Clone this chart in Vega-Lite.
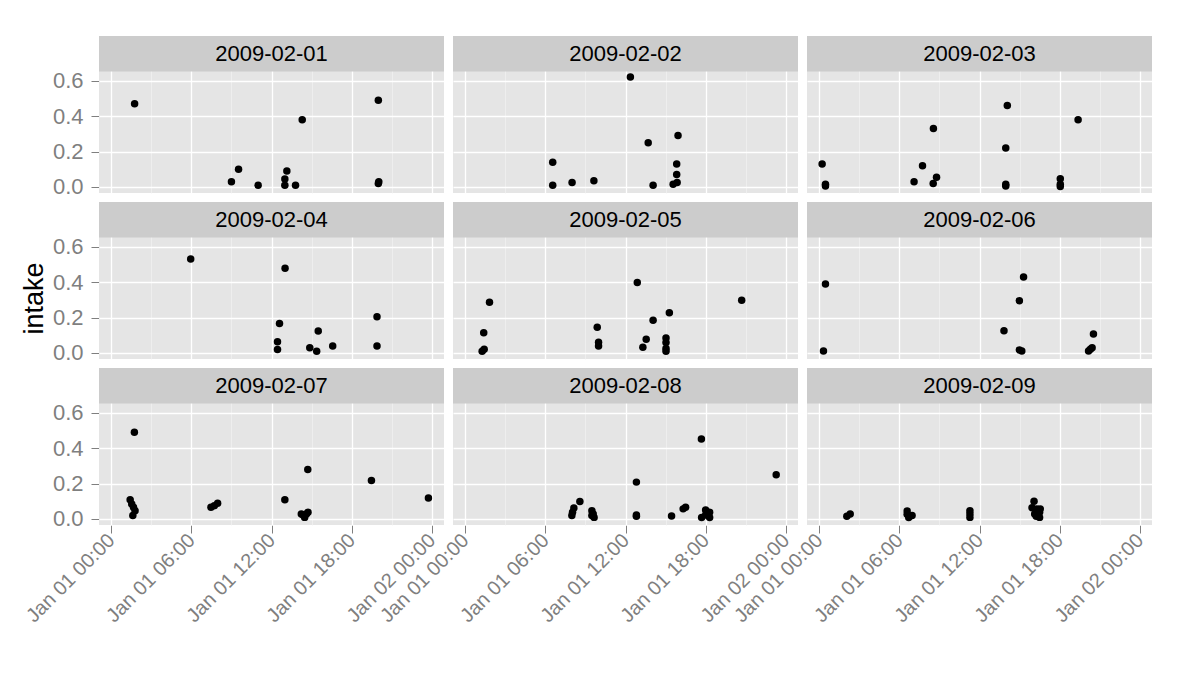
{
  "$schema": "https://vega.github.io/schema/vega-lite/v6.json",
  "autosize": {"type": "pad"},
  "padding": {"left": 21, "top": 35, "right": 20, "bottom": 5},
  "background": "white",
  "title": {"text": "intake", "orient": "left", "anchor": "middle", "fontSize": 27, "fontWeight": "normal", "color": "black", "font": "Liberation Sans", "offset": -27, "dx": 32},
  "config": {
    "view": {"fill": "#E5E5E5", "stroke": null},
    "font": "Liberation Sans"
  },
  "data": {"values": [
    {"date": "2009-02-01", "time": "2009-01-01T01:45", "intake": 0.47},
    {"date": "2009-02-01", "time": "2009-01-01T20:00", "intake": 0.49},
    {"date": "2009-02-01", "time": "2009-01-01T14:18", "intake": 0.38},
    {"date": "2009-02-01", "time": "2009-01-01T09:32", "intake": 0.10},
    {"date": "2009-02-01", "time": "2009-01-01T09:00", "intake": 0.03},
    {"date": "2009-02-01", "time": "2009-01-01T11:00", "intake": 0.01},
    {"date": "2009-02-01", "time": "2009-01-01T13:09", "intake": 0.09},
    {"date": "2009-02-01", "time": "2009-01-01T13:00", "intake": 0.045},
    {"date": "2009-02-01", "time": "2009-01-01T13:00", "intake": 0.01},
    {"date": "2009-02-01", "time": "2009-01-01T13:48", "intake": 0.01},
    {"date": "2009-02-01", "time": "2009-01-01T20:00", "intake": 0.02},
    {"date": "2009-02-01", "time": "2009-01-01T20:02", "intake": 0.03},

    {"date": "2009-02-02", "time": "2009-01-01T12:22", "intake": 0.62},
    {"date": "2009-02-02", "time": "2009-01-01T13:42", "intake": 0.25},
    {"date": "2009-02-02", "time": "2009-01-01T15:56", "intake": 0.29},
    {"date": "2009-02-02", "time": "2009-01-01T06:33", "intake": 0.14},
    {"date": "2009-02-02", "time": "2009-01-01T06:33", "intake": 0.01},
    {"date": "2009-02-02", "time": "2009-01-01T08:00", "intake": 0.025},
    {"date": "2009-02-02", "time": "2009-01-01T09:38", "intake": 0.035},
    {"date": "2009-02-02", "time": "2009-01-01T14:04", "intake": 0.01},
    {"date": "2009-02-02", "time": "2009-01-01T15:50", "intake": 0.13},
    {"date": "2009-02-02", "time": "2009-01-01T15:50", "intake": 0.07},
    {"date": "2009-02-02", "time": "2009-01-01T15:34", "intake": 0.015},
    {"date": "2009-02-02", "time": "2009-01-01T15:52", "intake": 0.025},

    {"date": "2009-02-03", "time": "2009-01-01T00:13", "intake": 0.13},
    {"date": "2009-02-03", "time": "2009-01-01T00:28", "intake": 0.015},
    {"date": "2009-02-03", "time": "2009-01-01T00:28", "intake": 0.005},
    {"date": "2009-02-03", "time": "2009-01-01T08:33", "intake": 0.33},
    {"date": "2009-02-03", "time": "2009-01-01T07:44", "intake": 0.12},
    {"date": "2009-02-03", "time": "2009-01-01T07:06", "intake": 0.03},
    {"date": "2009-02-03", "time": "2009-01-01T08:32", "intake": 0.02},
    {"date": "2009-02-03", "time": "2009-01-01T08:47", "intake": 0.055},
    {"date": "2009-02-03", "time": "2009-01-01T14:05", "intake": 0.46},
    {"date": "2009-02-03", "time": "2009-01-01T13:58", "intake": 0.22},
    {"date": "2009-02-03", "time": "2009-01-01T13:58", "intake": 0.015},
    {"date": "2009-02-03", "time": "2009-01-01T13:58", "intake": 0.006},
    {"date": "2009-02-03", "time": "2009-01-01T19:23", "intake": 0.38},
    {"date": "2009-02-03", "time": "2009-01-01T18:03", "intake": 0.047},
    {"date": "2009-02-03", "time": "2009-01-01T18:03", "intake": 0.015},
    {"date": "2009-02-03", "time": "2009-01-01T18:03", "intake": 0.002},

    {"date": "2009-02-04", "time": "2009-01-01T05:57", "intake": 0.53},
    {"date": "2009-02-04", "time": "2009-01-01T13:01", "intake": 0.478},
    {"date": "2009-02-04", "time": "2009-01-01T12:36", "intake": 0.166},
    {"date": "2009-02-04", "time": "2009-01-01T12:27", "intake": 0.063},
    {"date": "2009-02-04", "time": "2009-01-01T12:27", "intake": 0.02},
    {"date": "2009-02-04", "time": "2009-01-01T15:30", "intake": 0.124},
    {"date": "2009-02-04", "time": "2009-01-01T14:52", "intake": 0.03},
    {"date": "2009-02-04", "time": "2009-01-01T15:23", "intake": 0.01},
    {"date": "2009-02-04", "time": "2009-01-01T16:35", "intake": 0.04},
    {"date": "2009-02-04", "time": "2009-01-01T19:54", "intake": 0.204},
    {"date": "2009-02-04", "time": "2009-01-01T19:54", "intake": 0.04},

    {"date": "2009-02-05", "time": "2009-01-01T01:49", "intake": 0.286},
    {"date": "2009-02-05", "time": "2009-01-01T01:23", "intake": 0.114},
    {"date": "2009-02-05", "time": "2009-01-01T01:16", "intake": 0.01},
    {"date": "2009-02-05", "time": "2009-01-01T01:25", "intake": 0.021},
    {"date": "2009-02-05", "time": "2009-01-01T09:53", "intake": 0.145},
    {"date": "2009-02-05", "time": "2009-01-01T09:59", "intake": 0.061},
    {"date": "2009-02-05", "time": "2009-01-01T09:59", "intake": 0.04},
    {"date": "2009-02-05", "time": "2009-01-01T12:53", "intake": 0.398},
    {"date": "2009-02-05", "time": "2009-01-01T14:04", "intake": 0.185},
    {"date": "2009-02-05", "time": "2009-01-01T15:17", "intake": 0.227},
    {"date": "2009-02-05", "time": "2009-01-01T13:33", "intake": 0.078},
    {"date": "2009-02-05", "time": "2009-01-01T13:18", "intake": 0.032},
    {"date": "2009-02-05", "time": "2009-01-01T15:02", "intake": 0.084},
    {"date": "2009-02-05", "time": "2009-01-01T15:02", "intake": 0.059},
    {"date": "2009-02-05", "time": "2009-01-01T15:02", "intake": 0.025},
    {"date": "2009-02-05", "time": "2009-01-01T15:02", "intake": 0.01},
    {"date": "2009-02-05", "time": "2009-01-01T20:42", "intake": 0.297},

    {"date": "2009-02-06", "time": "2009-01-01T00:28", "intake": 0.389},
    {"date": "2009-02-06", "time": "2009-01-01T00:19", "intake": 0.011},
    {"date": "2009-02-06", "time": "2009-01-01T15:18", "intake": 0.429},
    {"date": "2009-02-06", "time": "2009-01-01T14:59", "intake": 0.295},
    {"date": "2009-02-06", "time": "2009-01-01T13:50", "intake": 0.126},
    {"date": "2009-02-06", "time": "2009-01-01T14:59", "intake": 0.017},
    {"date": "2009-02-06", "time": "2009-01-01T15:10", "intake": 0.011},
    {"date": "2009-02-06", "time": "2009-01-01T20:32", "intake": 0.107},
    {"date": "2009-02-06", "time": "2009-01-01T20:10", "intake": 0.011},
    {"date": "2009-02-06", "time": "2009-01-01T20:26", "intake": 0.03},
    {"date": "2009-02-06", "time": "2009-01-01T20:18", "intake": 0.021},

    {"date": "2009-02-07", "time": "2009-01-01T01:44", "intake": 0.49},
    {"date": "2009-02-07", "time": "2009-01-01T01:25", "intake": 0.109},
    {"date": "2009-02-07", "time": "2009-01-01T01:32", "intake": 0.085},
    {"date": "2009-02-07", "time": "2009-01-01T01:40", "intake": 0.066},
    {"date": "2009-02-07", "time": "2009-01-01T01:47", "intake": 0.047},
    {"date": "2009-02-07", "time": "2009-01-01T01:37", "intake": 0.019},
    {"date": "2009-02-07", "time": "2009-01-01T07:28", "intake": 0.066},
    {"date": "2009-02-07", "time": "2009-01-01T07:43", "intake": 0.075},
    {"date": "2009-02-07", "time": "2009-01-01T07:58", "intake": 0.089},
    {"date": "2009-02-07", "time": "2009-01-01T13:00", "intake": 0.108},
    {"date": "2009-02-07", "time": "2009-01-01T14:43", "intake": 0.279},
    {"date": "2009-02-07", "time": "2009-01-01T14:22", "intake": 0.023},
    {"date": "2009-02-07", "time": "2009-01-01T14:29", "intake": 0.009},
    {"date": "2009-02-07", "time": "2009-01-01T14:37", "intake": 0.028},
    {"date": "2009-02-07", "time": "2009-01-01T14:44", "intake": 0.038},
    {"date": "2009-02-07", "time": "2009-01-01T14:14", "intake": 0.028},
    {"date": "2009-02-07", "time": "2009-01-01T19:29", "intake": 0.217},
    {"date": "2009-02-07", "time": "2009-01-01T23:45", "intake": 0.119},

    {"date": "2009-02-08", "time": "2009-01-01T17:41", "intake": 0.451},
    {"date": "2009-02-08", "time": "2009-01-01T23:17", "intake": 0.249},
    {"date": "2009-02-08", "time": "2009-01-01T12:49", "intake": 0.208},
    {"date": "2009-02-08", "time": "2009-01-01T08:35", "intake": 0.098},
    {"date": "2009-02-08", "time": "2009-01-01T08:08", "intake": 0.062},
    {"date": "2009-02-08", "time": "2009-01-01T08:02", "intake": 0.038},
    {"date": "2009-02-08", "time": "2009-01-01T07:59", "intake": 0.019},
    {"date": "2009-02-08", "time": "2009-01-01T09:29", "intake": 0.047},
    {"date": "2009-02-08", "time": "2009-01-01T09:35", "intake": 0.028},
    {"date": "2009-02-08", "time": "2009-01-01T09:39", "intake": 0.009},
    {"date": "2009-02-08", "time": "2009-01-01T09:29", "intake": 0.019},
    {"date": "2009-02-08", "time": "2009-01-01T12:49", "intake": 0.023},
    {"date": "2009-02-08", "time": "2009-01-01T12:49", "intake": 0.015},
    {"date": "2009-02-08", "time": "2009-01-01T15:27", "intake": 0.017},
    {"date": "2009-02-08", "time": "2009-01-01T16:19", "intake": 0.057},
    {"date": "2009-02-08", "time": "2009-01-01T16:30", "intake": 0.066},
    {"date": "2009-02-08", "time": "2009-01-01T18:00", "intake": 0.051},
    {"date": "2009-02-08", "time": "2009-01-01T18:18", "intake": 0.038},
    {"date": "2009-02-08", "time": "2009-01-01T17:42", "intake": 0.008},
    {"date": "2009-02-08", "time": "2009-01-01T18:18", "intake": 0.008},
    {"date": "2009-02-08", "time": "2009-01-01T18:00", "intake": 0.023},

    {"date": "2009-02-09", "time": "2009-01-01T02:04", "intake": 0.015},
    {"date": "2009-02-09", "time": "2009-01-01T02:19", "intake": 0.028},
    {"date": "2009-02-09", "time": "2009-01-01T06:35", "intake": 0.045},
    {"date": "2009-02-09", "time": "2009-01-01T06:35", "intake": 0.026},
    {"date": "2009-02-09", "time": "2009-01-01T06:42", "intake": 0.008},
    {"date": "2009-02-09", "time": "2009-01-01T06:57", "intake": 0.019},
    {"date": "2009-02-09", "time": "2009-01-01T11:17", "intake": 0.047},
    {"date": "2009-02-09", "time": "2009-01-01T11:17", "intake": 0.028},
    {"date": "2009-02-09", "time": "2009-01-01T11:17", "intake": 0.009},
    {"date": "2009-02-09", "time": "2009-01-01T16:05", "intake": 0.1},
    {"date": "2009-02-09", "time": "2009-01-01T15:56", "intake": 0.064},
    {"date": "2009-02-09", "time": "2009-01-01T16:18", "intake": 0.057},
    {"date": "2009-02-09", "time": "2009-01-01T16:30", "intake": 0.038},
    {"date": "2009-02-09", "time": "2009-01-01T16:08", "intake": 0.028},
    {"date": "2009-02-09", "time": "2009-01-01T16:30", "intake": 0.009},
    {"date": "2009-02-09", "time": "2009-01-01T16:15", "intake": 0.015},
    {"date": "2009-02-09", "time": "2009-01-01T16:33", "intake": 0.057}
  ]},
  "facet": {"field": "date", "type": "ordinal", "header": {"title": null, "labelExpr": "''", "labelFontSize": 1, "labelPadding": 0}},
  "columns": 3,
  "spacing": {"row": 8, "column": 9},
  "spec": {
    "width": 345,
    "height": 157,
    "layer": [
      {
        "mark": {"type": "point", "filled": true, "shape": "circle", "size": 56, "color": "black", "opacity": 1},
        "encoding": {
          "x": {
            "field": "time",
            "type": "temporal",
            "scale": {"domain": [
              {"year": 2008, "month": 12, "date": 31, "hours": 23, "minutes": 5},
              {"year": 2009, "month": 1, "date": 2, "hours": 0, "minutes": 55}
            ], "nice": false},
            "axis": {
              "title": null,
              "domain": false,
              "values": [
                {"year": 2009, "month": 1, "date": 1, "hours": 0},
                {"year": 2009, "month": 1, "date": 1, "hours": 3},
                {"year": 2009, "month": 1, "date": 1, "hours": 6},
                {"year": 2009, "month": 1, "date": 1, "hours": 9},
                {"year": 2009, "month": 1, "date": 1, "hours": 12},
                {"year": 2009, "month": 1, "date": 1, "hours": 15},
                {"year": 2009, "month": 1, "date": 1, "hours": 18},
                {"year": 2009, "month": 1, "date": 1, "hours": 21},
                {"year": 2009, "month": 1, "date": 2, "hours": 0}
              ],
              "labelExpr": "hours(datum.value) % 6 === 0 ? timeFormat(datum.value, '%b %d %H:%M') : ''",
              "labelAngle": -45,
              "labelAlign": "right",
              "labelBaseline": "middle",
              "labelFontSize": 20,
              "labelColor": "#7F7F7F",
              "labelFont": "Liberation Sans",
              "labelOverlap": false,
              "labelFlush": false,
              "labelBound": false,
              "labelPadding": 4,
              "tickSize": 8,
              "tickColor": "#7F7F7F",
              "tickOpacity": {"condition": {"test": "hours(datum.value) % 6 === 0", "value": 1}, "value": 0},
              "gridColor": {"condition": {"test": "hours(datum.value) % 6 === 0", "value": "#FFFFFF"}, "value": "#F2F2F2"},
              "gridWidth": {"condition": {"test": "hours(datum.value) % 6 === 0", "value": 1.3}, "value": 0.7},
              "gridOpacity": 1,
              "zindex": 0
            }
          },
          "y": {
            "field": "intake",
            "type": "quantitative",
            "scale": {"domain": [-0.034, 0.852], "nice": false, "zero": false},
            "axis": {
              "title": null,
              "domain": false,
              "values": [0, 0.1, 0.2, 0.3, 0.4, 0.5, 0.6],
              "labelExpr": "round(datum.value * 10) % 2 === 0 ? format(datum.value, '.1f') : ''",
              "labelFontSize": 22,
              "labelColor": "#7F7F7F",
              "labelFont": "Liberation Sans",
              "labelPadding": 8,
              "tickSize": 8,
              "tickColor": "#7F7F7F",
              "tickOpacity": {"condition": {"test": "round(datum.value * 10) % 2 === 0", "value": 1}, "value": 0},
              "gridColor": {"condition": {"test": "round(datum.value * 10) % 2 === 0", "value": "#FFFFFF"}, "value": "#F2F2F2"},
              "gridWidth": {"condition": {"test": "round(datum.value * 10) % 2 === 0", "value": 1.3}, "value": 0.7},
              "gridOpacity": 1,
              "zindex": 0
            }
          }
        }
      },
      {
        "transform": [{"aggregate": [{"op": "count", "as": "n"}], "groupby": ["date"]}],
        "mark": {"type": "rect", "fill": "#CCCCCC"},
        "encoding": {
          "y": {"datum": 0.652, "type": "quantitative", "title": null, "scale": {"domain": [-0.034, 0.852], "nice": false, "zero": false}},
          "y2": {"datum": 0.852}
        }
      },
      {
        "transform": [{"aggregate": [{"op": "count", "as": "n"}], "groupby": ["date"]}],
        "mark": {"type": "text", "fontSize": 22, "font": "Liberation Sans", "color": "black", "baseline": "middle", "align": "center"},
        "encoding": {
          "y": {"datum": 0.752, "type": "quantitative", "title": null, "scale": {"domain": [-0.034, 0.852], "nice": false, "zero": false}},
          "text": {"field": "date"}
        }
      }
    ]
  }
}
